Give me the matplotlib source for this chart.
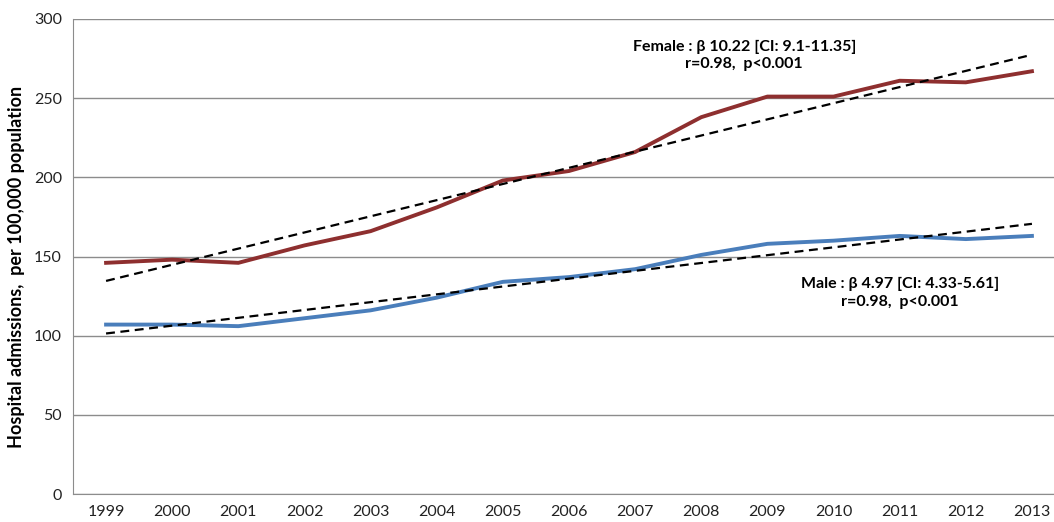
import numpy as np
import matplotlib
matplotlib.use('Agg')
import matplotlib.pyplot as plt

years = list(range(1999, 2014))
female = [146, 148, 146, 157, 166, 181, 198, 204, 216, 238, 251, 251, 261, 260, 267]
male = [107, 107, 106, 111, 116, 124, 134, 137, 142, 151, 158, 160, 163, 161, 163]

female_text = 'Female : \u03b2 10.22 [CI: 9.1-11.35]\nr=0.98,  p<0.001'
male_text = 'Male : \u03b2 4.97 [CI: 4.33-5.61]\nr=0.98,  p<0.001'

plt.rcParams['font.family'] = ['Lato', 'DejaVu Sans']

fig = plt.figure(figsize=(10.54, 5.22), dpi=100)
ax = fig.add_axes([73 / 1054, 28 / 522, 992 / 1054, 475 / 522])

x = np.array(years)
for vals in (female, male):
    k, b = np.polyfit(x, vals, 1)
    ax.plot(x, k * x + b, color='black', linestyle=(0, (4, 2.5)), linewidth=1.6, zorder=3)

ax.plot(years, female, color='#8E2F2F', linewidth=2.8, zorder=2)
ax.plot(years, male, color='#4A7EBB', linewidth=2.8, zorder=2)

ax.set_xlim(1998.5, 2013.5)
ax.set_ylim(0, 300)
ax.set_yticks(range(0, 301, 50))
ax.set_xticks(years)
ax.tick_params(length=0, labelsize=11.5, colors='#222222', pad=8)
ax.grid(axis='y', color='#8c8c8c', linewidth=1)
ax.set_axisbelow(True)
for s in ('top', 'right'):
    ax.spines[s].set_visible(False)
for s in ('left', 'bottom'):
    ax.spines[s].set_color('#8c8c8c')
ax.set_ylabel('Hospital admissions,  per 100,000 population', fontsize=13,
              fontweight='bold')
ax.yaxis.set_label_coords(-0.048, 0.478)

ax.text(2008.65, 277, female_text, ha='center', va='center', multialignment='center',
        fontsize=11.5, fontweight='bold', linespacing=1.3)
ax.text(2011.0, 127, male_text, ha='center', va='center', multialignment='center',
        fontsize=11.5, fontweight='bold', linespacing=1.3)

fig.savefig('out.png', dpi=100)
